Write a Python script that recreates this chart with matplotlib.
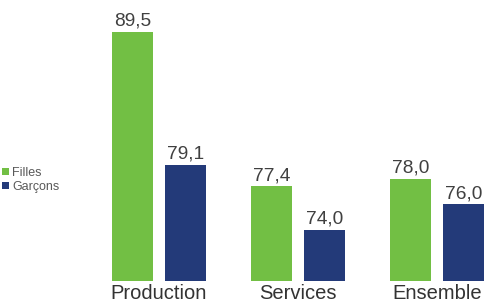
import matplotlib.pyplot as plt
import numpy as np

# data
categories = ['Production', 'Services', 'Ensemble']
filles = [89.5, 77.4, 78.0]
garcons = [79.1, 74.0, 76.0]
series_names = ['Filles', 'Garçons']

plt.rcParams['font.family'] = ['Liberation Sans', 'DejaVu Sans']

green = '#72BF44'
navy = '#233A79'

fig = plt.figure(figsize=(4.85, 3.02), dpi=100)
ax = fig.add_axes([0, 21 / 302, 1, 281 / 302])

x = np.arange(len(categories))
w = 0.29
off = 0.19
b1 = ax.bar(x - off, filles, w, color=green, label=series_names[0])
b2 = ax.bar(x + off, garcons, w, color=navy, label=series_names[1])

ax.set_ylim(70, 92.0)
ax.set_xlim(-1.144, 2.345)

# value labels with comma decimals
for bars, vals in ((b1, filles), (b2, garcons)):
    for rect, v in zip(bars, vals):
        ax.annotate(f'{v:.1f}'.replace('.', ','),
                    (rect.get_x() + rect.get_width() / 2, v),
                    xytext=(0, 1.5), textcoords='offset points',
                    ha='center', va='bottom', fontsize=13.8, color='#404040')

ax.set_xticks(x)
ax.set_xticklabels(categories, fontsize=14.5, color='#333333')
ax.tick_params(axis='x', length=0, pad=2.5)
ax.set_yticks([])
for s in ax.spines.values():
    s.set_visible(False)

leg = ax.legend(loc='upper left', bbox_to_anchor=(2 / 485, 1 - 167 / 281),
                bbox_transform=ax.transAxes, frameon=False, fontsize=9,
                handlelength=0.55, handleheight=0.55, handletextpad=0.25,
                labelspacing=0.15, borderaxespad=0, borderpad=0)
for t in leg.get_texts():
    t.set_color('#595959')

fig.savefig('out.png', dpi=100)
